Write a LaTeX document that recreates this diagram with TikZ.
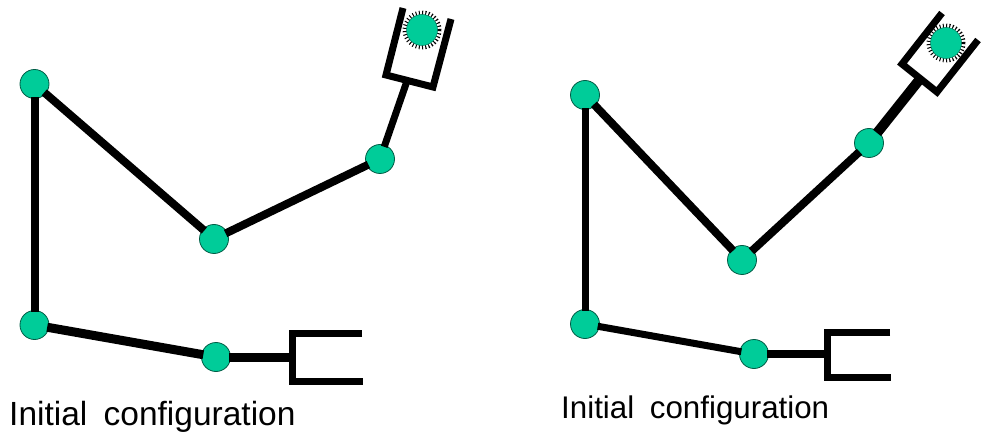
\documentclass[tikz,border=0pt]{standalone}
\usepackage{fontspec}
\setmainfont{Liberation Sans}
\definecolor{jointgreen}{HTML}{00CC99}
\tikzset{
  joint/.style={circle,draw=black!55!jointgreen,fill=jointgreen,line width=0.8pt,minimum size=29pt,inner sep=0pt},
  ball/.style={circle,draw=jointgreen!60!black,fill=jointgreen,line width=0.5pt,minimum size=31pt,inner sep=0pt},
  spikes/.style={circle,draw=black,line width=5pt,dash pattern=on 1pt off 2.2pt,minimum size=34pt,inner sep=0pt},
  link/.style={line width=8pt,shorten <=-2pt,shorten >=-2pt},
  gripper/.style={line width=7pt,line join=miter},
  caption/.style={anchor=base west,inner sep=0pt}
}
\begin{document}
\begin{tikzpicture}[x=1pt,y=-1pt]
\useasboundingbox (0,0) rectangle (981,435);
% left arm
\node[joint] (a1) at (34.5,84) {};
\node[joint] (a2) at (34.5,325) {};
\node[joint] (a3) at (216,357) {};
\node[joint] (a4) at (214,239) {};
\node[joint] (a5) at (380,159) {};
\coordinate (ag1) at (403,8);
\coordinate (ag2) at (386,75);
\coordinate (ag3) at (433,87);
\coordinate (ag4) at (451,19);
\coordinate (agm) at (407,81);
\coordinate (ah1) at (362,333);
\coordinate (ah2) at (292,333);
\coordinate (ah3) at (292,381);
\coordinate (ah4) at (363,381);
\coordinate (ahm) at (292,357);
\draw[link] (a1) -- (a2);
\draw[link,line width=9pt] (a2) -- (a3);
\draw[link] (a1) -- (a4);
\draw[link] (a4) -- (a5);
\draw[link,line width=7pt] (a5) -- (agm);
\draw[link,line width=9pt] (a3) -- (ahm);
\draw[gripper] (ag1) -- (ag2) -- (ag3) -- (ag4);
\draw[gripper] (ah1) -- (ah2) -- (ah3) -- (ah4);
\node[spikes] (as) at (422,30) {};
\node[ball] (ab) at (422,30) {};
% right arm
\node[joint] (b1) at (585,95) {};
\node[joint] (b2) at (585,324) {};
\node[joint] (b3) at (754,354) {};
\node[joint] (b4) at (742,260) {};
\node[joint] (b5) at (869,143) {};
\coordinate (bg1) at (942,13);
\coordinate (bg2) at (902,64);
\coordinate (bg3) at (937,92);
\coordinate (bg4) at (978,40);
\coordinate (bgm) at (920,79);
\coordinate (bh1) at (890,332);
\coordinate (bh2) at (827,332);
\coordinate (bh3) at (827,377);
\coordinate (bh4) at (891,377);
\coordinate (bhm) at (827,354);
\draw[link,line width=7pt] (b1) -- (b2);
\draw[link,line width=7pt] (b2) -- (b3);
\draw[link] (b1) -- (b4);
\draw[link] (b4) -- (b5);
\draw[link,line width=10pt] (b5) -- (bgm);
\draw[link] (b3) -- (bhm);
\draw[gripper] (bg1) -- (bg2) -- (bg3) -- (bg4);
\draw[gripper] (bh1) -- (bh2) -- (bh3) -- (bh4);
\node[spikes] (bs) at (946,43) {};
\node[ball] (bb) at (946,43) {};
% captions
\node[caption,font=\fontsize{33.5}{40}\selectfont] (ca) at (9,425) {Initial\hspace{7pt} configuration};
\node[caption,font=\fontsize{31.3}{38}\selectfont] (cb) at (561,418) {Initial\hspace{7pt} configuration};
\end{tikzpicture}
\end{document}
